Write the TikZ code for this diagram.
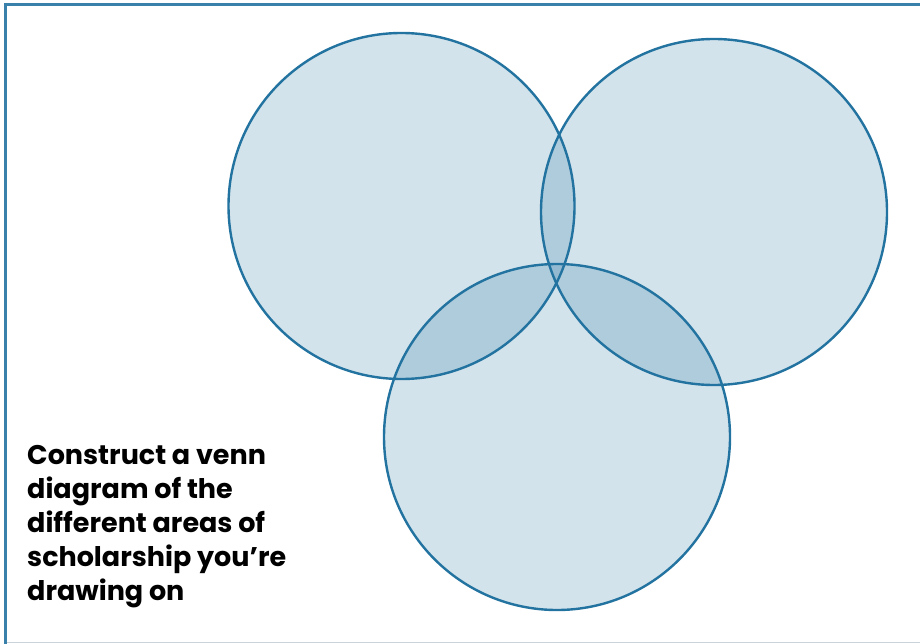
\documentclass[tikz,border=0pt]{standalone}
\usepackage{fontspec}
\setmainfont{Poppins}
\usetikzlibrary{positioning}

\definecolor{vennblue}{HTML}{2373A0}
\definecolor{framegrey}{HTML}{C9D3D9}

\tikzset{
  venncircle/.style={circle, draw=vennblue, line width=2.4pt, fill=vennblue,
    fill opacity=0.2, draw opacity=1, minimum size=346pt, inner sep=0pt},
  prompt/.style={align=left, anchor=north west, inner sep=0pt,
    font=\fontsize{27}{34}\selectfont\bfseries, text=black}
}

\begin{document}
\begin{tikzpicture}[x=1pt, y=-1pt]

% Page and frame
\useasboundingbox (0,0) rectangle (920,644);
\fill[white] (0,0) rectangle (920,644);
\draw[framegrey, line width=1.5pt] (5,642.5) -- (925,642.5);
\draw[vennblue!90, line width=3pt] (5,650) -- (5,4.5) -- (925,4.5);

% Three circles
\node[venncircle] (left) at (401.5,206) {};
\node[venncircle] (right) at (714,212) {};
\node[venncircle] (bottom) at (557,437) {};

% Prompt text
\node[prompt] (task) at (27,445) {Construct a venn\\diagram of the\\different areas of\\scholarship you’re\\drawing on};

\end{tikzpicture}
\end{document}
